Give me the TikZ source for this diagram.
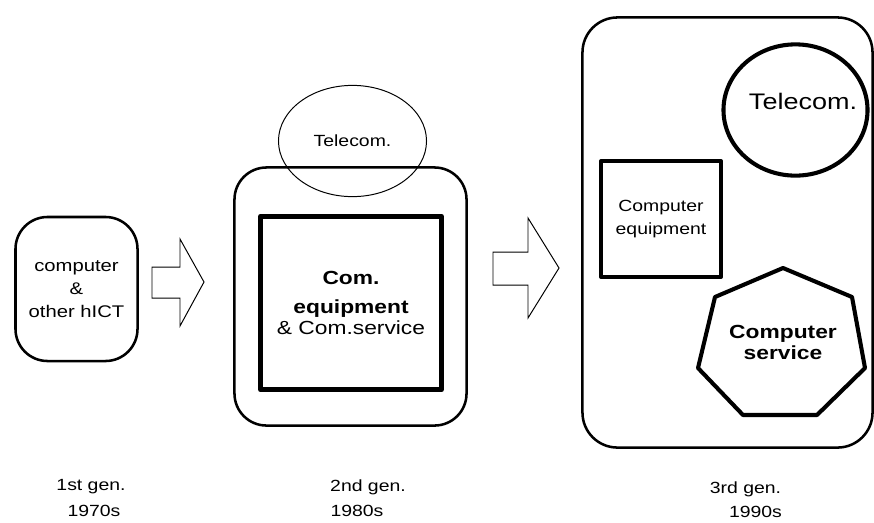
\documentclass[tikz,border=0pt]{standalone}
\usepackage{fontspec}
\setmainfont{Liberation Sans}[FakeStretch=1.2]
\usetikzlibrary{shapes.geometric}
\begin{document}
\begin{tikzpicture}[x=0.025cm, y=-0.025cm,
    genbox/.style={draw, line width=1.8pt, rounded corners=0.8cm, inner sep=0pt},
    thickbox/.style={draw, line width=2.9pt, line join=round, inner sep=0pt},
    blockarrow/.style={draw, line width=0.7pt, line join=miter},
    txt/.style={align=center, inner sep=0pt, font=\fontsize{12}{16.4}\selectfont},
    gentxt/.style={txt, font=\fontsize{11.5}{14}\selectfont}]
\useasboundingbox (0,0) rectangle (874,522);
% 1st generation
\node [genbox, txt, minimum width=3.05cm, minimum height=3.6cm] (gen1) at (76.5,289) {computer\\\&\\other hICT};
\draw [blockarrow] (152,267) -- (180,267) -- (180,239) -- (204,282) -- (180,326) -- (180,298) -- (152,298) -- cycle;
% 2nd generation
\node [genbox, minimum width=5.8cm, minimum height=6.45cm] (gen2) at (350.5,296.5) {};
\node [draw, ellipse, line width=0.7pt, minimum width=3.7cm, minimum height=2.78cm, inner sep=0pt,
       font=\fontsize{11.5}{14}\selectfont] (tel2) at (352.5,141) {Telecom.};
\node [thickbox, txt, line width=3.6pt, minimum width=4.52cm, minimum height=4.33cm] (equip2) at (351,303)
      {\fontsize{13.5}{19}\selectfont\bfseries Com.\\[4pt]\fontsize{13.5}{19}\selectfont\bfseries equipment\\[-1pt]\fontsize{13.5}{19}\selectfont \& Com.service};
\draw [blockarrow] (493,252) -- (528,252) -- (528,218) -- (559,268) -- (528,318) -- (528,285) -- (493,285) -- cycle;
% 3rd generation
\node [genbox, rounded corners=0.875cm, minimum width=7.25cm, minimum height=10.75cm] (gen3) at (727.5,232.5) {};
\node [thickbox, ellipse, minimum width=3.6cm, minimum height=3.28cm] (tel3) at (795.5,110) {};
\node [txt, font=\fontsize{16}{19}\selectfont] (tel3txt) at (803,101) {Telecom.};
\node [thickbox, txt, font=\fontsize{11.5}{16.4}\selectfont, minimum width=3.0cm, minimum height=2.9cm] (equip3) at (661,219) {Computer\\equipment};
\draw [thickbox] (783,268) -- (852,297) -- (865,368) -- (817,415) -- (743,415) -- (698,368) -- (715,297) -- cycle;
\node [txt, font=\fontsize{13.5}{15}\selectfont\bfseries] (serv3) at (783,342.5) {Computer\\service};
% labels
\node [gentxt] (lab1) at (91,487) {1st gen.};
\node [gentxt] (yr1) at (94,511) {1970s};
\node [gentxt] (lab2) at (368,487) {2nd gen.};
\node [gentxt] (yr2) at (357,511) {1980s};
\node [gentxt] (lab3) at (745.5,489) {3rd gen.};
\node [gentxt] (yr3) at (755.5,512) {1990s};
\end{tikzpicture}
\end{document}
